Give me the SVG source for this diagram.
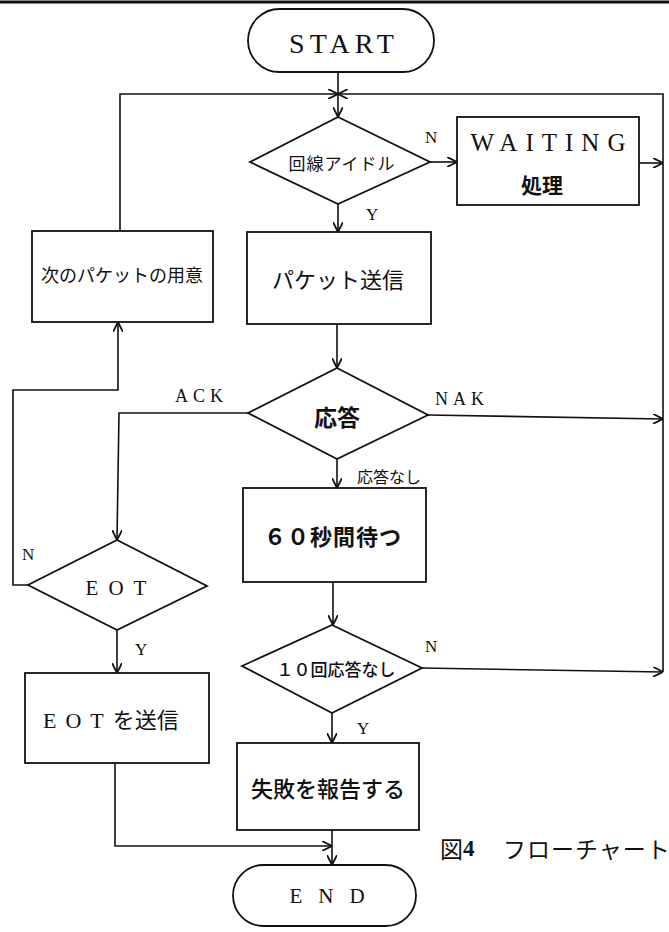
<svg xmlns="http://www.w3.org/2000/svg" width="669" height="932" viewBox="0 0 669 932">
<style>
.shape{fill:#fff;stroke:#111;stroke-width:1.8}
.ln{fill:none;stroke:#111;stroke-width:1.6}
.lat{font-family:"Liberation Serif","Noto Sans CJK JP",serif;fill:#111}
.jp{font-family:"Noto Sans CJK JP","Noto Sans CJK SC",sans-serif;fill:#111}
.mix{font-family:"Liberation Serif","Noto Sans CJK JP",serif;fill:#111}
.lbl{font-family:"Liberation Serif",serif;font-size:17px;fill:#111}
</style>
<defs>
<marker id="arr" viewBox="0 0 10 10" refX="10" refY="5" markerWidth="10" markerHeight="10" markerUnits="userSpaceOnUse" orient="auto">
<path d="M0,0 L10,5 L0,10" fill="none" stroke="#111" stroke-width="1.8"/>
</marker>
</defs>
<rect width="669" height="932" fill="#fff"/>
<line x1="0" y1="2" x2="669" y2="2" stroke="#111" stroke-width="3"/>

<g id="connectors">
<line class="ln" x1="338" y1="72" x2="338" y2="117" marker-end="url(#arr)"/>
<polyline class="ln" points="120,231 120,94 338,94" marker-end="url(#arr)"/>
<polyline class="ln" points="663,672 663,94 338,94" marker-end="url(#arr)"/>
<line class="ln" x1="430" y1="162" x2="457" y2="162" marker-end="url(#arr)"/>
<line class="ln" x1="639" y1="163" x2="663" y2="163" marker-end="url(#arr)"/>
<line class="ln" x1="338" y1="204" x2="338" y2="232" marker-end="url(#arr)"/>
<line class="ln" x1="337" y1="324" x2="337" y2="368" marker-end="url(#arr)"/>
<line class="ln" x1="428" y1="415" x2="663" y2="419" marker-end="url(#arr)"/>
<polyline class="ln" points="248,413 119,413 117,540" marker-end="url(#arr)"/>
<line class="ln" x1="337" y1="459" x2="337" y2="488" marker-end="url(#arr)"/>
<line class="ln" x1="333" y1="582" x2="333" y2="625" marker-end="url(#arr)"/>
<line class="ln" x1="422" y1="668" x2="663" y2="672" marker-end="url(#arr)"/>
<line class="ln" x1="332" y1="713" x2="332" y2="743" marker-end="url(#arr)"/>
<line class="ln" x1="332" y1="830" x2="332" y2="865" marker-end="url(#arr)"/>
<polyline class="ln" points="28,585 13,585 13,390 118,390 118,322" marker-end="url(#arr)"/>
<line class="ln" x1="117" y1="630" x2="117" y2="673" marker-end="url(#arr)"/>
<polyline class="ln" points="115,763 115,846 332,846" marker-end="url(#arr)"/>
<text class="lbl" x="425" y="143">N</text>
<text class="lbl" x="366" y="220">Y</text>
<text class="lat" x="175" y="402" font-size="18" letter-spacing="5">ACK</text>
<text class="lat" x="435" y="405" font-size="18" letter-spacing="5">NAK</text>
<text class="jp" x="357" y="476" font-size="16" dominant-baseline="central">応答なし</text>
<text class="lbl" x="22" y="560">N</text>
<text class="lbl" x="135" y="655">Y</text>
<text class="lbl" x="425" y="652">N</text>
<text class="lbl" x="357" y="734">Y</text>
</g>

<g id="start">
<rect class="shape" x="248" y="9" width="186" height="63" rx="31.5"/>
<text class="lat" x="344" y="53" font-size="28" letter-spacing="5" text-anchor="middle">START</text>
</g>

<g id="idle">
<polygon class="shape" points="338,117 430,162 338,204 250,162"/>
<text class="jp" x="342" y="162" font-size="17" letter-spacing="1" text-anchor="middle" dominant-baseline="central">回線アイドル</text>
</g>

<g id="waiting">
<rect class="shape" x="457" y="117" width="182" height="88"/>
<text class="lat" x="552" y="151" font-size="25" letter-spacing="8" text-anchor="middle">WAITING</text>
<text class="jp" x="542" y="184" font-size="21" font-weight="bold" text-anchor="middle" dominant-baseline="central">処理</text>
</g>

<g id="send">
<rect class="shape" x="247" y="232" width="184" height="92"/>
<text class="jp" x="338" y="278" font-size="22" text-anchor="middle" dominant-baseline="central">パケット送信</text>
</g>

<g id="next">
<rect class="shape" x="32" y="231" width="181" height="91"/>
<text class="jp" x="122" y="274" font-size="18" text-anchor="middle" dominant-baseline="central">次のパケットの用意</text>
</g>

<g id="resp">
<polygon class="shape" points="337,368 428,415 337,459 248,413"/>
<text class="jp" x="337" y="416" font-size="23" font-weight="bold" text-anchor="middle" dominant-baseline="central">応答</text>
</g>

<g id="wait60">
<rect class="shape" x="243" y="488" width="183" height="94"/>
<text class="jp" x="333" y="535" font-size="22" font-weight="bold" letter-spacing="1" text-anchor="middle" dominant-baseline="central">６０秒間待つ</text>
</g>

<g id="eot">
<polygon class="shape" points="117,540 207,586 117,630 28,585"/>
<text class="lat" x="121" y="595" font-size="21" letter-spacing="10" text-anchor="middle">EOT</text>
</g>

<g id="ten">
<polygon class="shape" points="332,625 422,668 332,713 242,666"/>
<text class="jp" x="336" y="668" font-size="17" font-weight="500" text-anchor="middle" dominant-baseline="central">１０回応答なし</text>
</g>

<g id="sendeot">
<rect class="shape" x="25" y="673" width="184" height="90"/>
<text class="mix" x="43" y="728" font-size="22"><tspan letter-spacing="9">EOT</tspan>を送信</text>
</g>

<g id="fail">
<rect class="shape" x="237" y="743" width="182" height="87"/>
<text class="jp" x="328" y="787" font-size="22" font-weight="500" text-anchor="middle" dominant-baseline="central">失敗を報告する</text>
</g>

<g id="end">
<rect class="shape" x="233" y="865" width="183" height="61" rx="30.5"/>
<text class="lat" x="335" y="903" font-size="21" letter-spacing="16" text-anchor="middle">END</text>
</g>

<g id="caption">
<text class="jp" x="440" y="848" font-size="23" dominant-baseline="central">図<tspan font-family="Liberation Serif" font-weight="bold">4</tspan><tspan x="503" letter-spacing="1">フローチャート</tspan></text>
</g>
</svg>
